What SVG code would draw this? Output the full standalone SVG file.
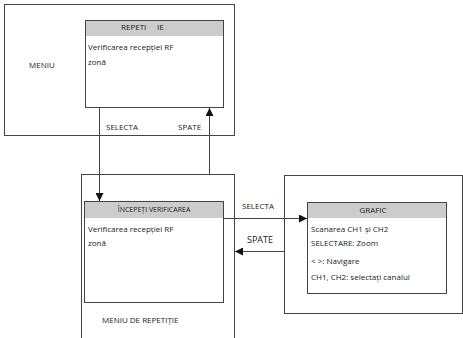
<svg xmlns="http://www.w3.org/2000/svg" width="463" height="338" viewBox="0 0 463 338">
<style>
.box{fill:#fff;stroke:#444;stroke-width:1}
.hdr{fill:#cccccc;stroke:none}
.t{font-family:"Open Sans","Noto Sans",sans-serif;font-size:8px;fill:#222}
.h{font-family:"Open Sans","Noto Sans",sans-serif;font-size:8px;fill:#222;text-anchor:middle}
.c{stroke:#444;stroke-width:1;fill:none}
</style>
<defs>
<marker id="ah" viewBox="0 0 10 10" refX="10" refY="5" markerWidth="8" markerHeight="8" markerUnits="userSpaceOnUse" orient="auto">
<path d="M0,0 L10,5 L0,10 z" fill="#111"/>
</marker>
</defs>
<rect x="0" y="0" width="463" height="338" fill="#fff"/>
<g id="menu">
<rect class="box" x="4.5" y="4.5" width="230" height="131"/>
<text class="t" x="29" y="68">MENIU</text>
<g id="repetitie">
<rect class="box" x="85.5" y="20.5" width="138" height="87"/>
<rect class="hdr" x="86" y="21" width="137" height="15"/>
<text class="t" x="121" y="30">REPETI</text>
<text class="t" x="157" y="30">IE</text>
<text class="t" x="88" y="49.5">Verificarea recepției RF</text>
<text class="t" x="88" y="65">zonă</text>
</g>
</g>
<g id="meniu-repetitie">
<rect class="box" x="81.5" y="174.5" width="153" height="170"/>
<text class="t" x="102" y="323">MENIU DE REPETIȚIE</text>
<g id="incepeti">
<rect class="box" x="84.5" y="201.5" width="139" height="101"/>
<rect class="hdr" x="85" y="202" width="138" height="16"/>
<text class="h" x="154" y="211.5" style="font-size:7px">ÎNCEPEȚI VERIFICAREA</text>
<text class="t" x="88" y="232">Verificarea recepției RF</text>
<text class="t" x="88" y="245.5">zonă</text>
</g>
</g>
<g id="grafic-outer">
<rect class="box" x="284.5" y="175.5" width="178" height="138"/>
<g id="grafic">
<rect class="box" x="307.5" y="202.5" width="139" height="91"/>
<rect class="hdr" x="308" y="203" width="138" height="15"/>
<text class="h" x="373" y="212.5">GRAFIC</text>
<text class="t" x="311" y="232">Scanarea CH1 și CH2</text>
<text class="t" x="311" y="245.5">SELECTARE: Zoom</text>
<text class="t" x="311" y="263.5">&lt; &gt;: Navigare</text>
<text class="t" x="311" y="279.5">CH1, CH2: selectați canalul</text>
</g>
</g>
<g id="connectors">
<path class="c" d="M99.5,108 V201" marker-end="url(#ah)"/>
<path class="c" d="M209.5,174 V108" marker-end="url(#ah)"/>
<path class="c" d="M224,218.5 H307" marker-end="url(#ah)"/>
<path class="c" d="M284,251.5 H235" marker-end="url(#ah)"/>
<text class="t" x="106" y="129.5">SELECTA</text>
<text class="t" x="178" y="129.5">SPATE</text>
<text class="t" x="242" y="209">SELECTA</text>
<text class="t" x="247" y="243" style="font-size:9px">SPATE</text>
</g>
</svg>
